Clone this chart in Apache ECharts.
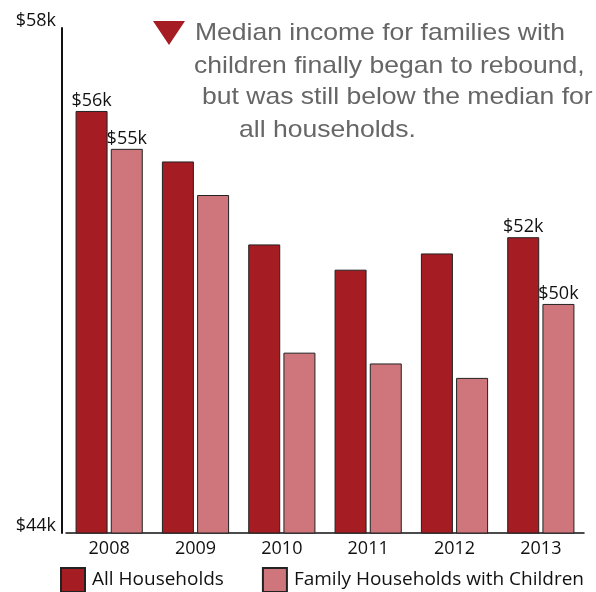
<!DOCTYPE html>
<html>
<head>
<meta charset="utf-8">
<script src="https://cdn.jsdelivr.net/npm/echarts@6/dist/echarts.min.js"></script>
<style>
html,body{margin:0;padding:0;background:#fff;}
#chart{width:596px;height:592px;}
</style>
</head>
<body>
<div id="chart"></div>
<script>
const years = ['2008', '2009', '2010', '2011', '2012', '2013'];
const allHouseholds = [55.7, 54.3, 52.0, 51.3, 51.75, 52.2];
const familyWithChildren = [54.65, 53.37, 49.0, 48.7, 48.3, 50.35];
const allLabels = ['$56k', '', '', '', '', '$52k'];
const familyLabels = ['$55k', '', '', '', '', '$50k'];
const yTicks = [44, 58];
const seriesNames = ['All Households', 'Family Households with Children'];
const noteLines = [
  'Median income for families with',
  'children finally began to rebound,',
  'but was still below the median for',
  'all households.'
];

const FONT = '"Open Sans", "Noto Sans", sans-serif';
const FS = 18;
const DARK = '#A51D23';
const PINK = '#CF767C';

function buildData(values, labels) {
  return values.map((v, i) => ({
    value: v,
    label: { show: labels[i] !== '', formatter: labels[i] }
  }));
}

const chart = echarts.init(document.getElementById('chart'));
const noteX = [195, 194, 202, 239];
const noteY = [21, 54, 85, 118];

chart.setOption({
  animation: false,
  grid: { left: 66, right: 12, top: 28, bottom: 59 },
  legend: {
    left: 60, top: 567, padding: 0,
    itemWidth: 24, itemHeight: 24, itemGap: 38,
    icon: 'rect',
    textStyle: { fontFamily: FONT, fontSize: 19, color: '#111', padding: [0, 0, 0, 2] },
    data: seriesNames
  },
  xAxis: {
    type: 'category',
    data: years,
    axisLine: { lineStyle: { color: '#111', width: 1.5 } },
    axisTick: { show: false },
    axisLabel: { fontFamily: FONT, fontSize: FS, color: '#111', margin: 7 }
  },
  yAxis: {
    type: 'value',
    min: yTicks[0], max: yTicks[1], interval: yTicks[1] - yTicks[0],
    offset: 4,
    splitLine: { show: false },
    axisLine: { show: true, lineStyle: { color: '#111', width: 2 } },
    axisTick: { show: false },
    axisLabel: {
      fontFamily: FONT, fontSize: FS, color: '#111', margin: 6,
      verticalAlign: 'bottom', lineHeight: 14,
      formatter: v => '$' + v + 'k'
    }
  },
  series: [
    {
      name: seriesNames[0], type: 'bar', barWidth: 32, barGap: '10%',
      itemStyle: { color: DARK, borderColor: '#222', borderWidth: 1 },
      label: { position: 'top', distance: 1, fontFamily: FONT, fontSize: FS, color: '#111' },
      data: buildData(allHouseholds, allLabels)
    },
    {
      name: seriesNames[1], type: 'bar', barWidth: 32,
      itemStyle: { color: PINK, borderColor: '#222', borderWidth: 1 },
      label: { position: 'top', distance: 1, fontFamily: FONT, fontSize: FS, color: '#111' },
      data: buildData(familyWithChildren, familyLabels)
    }
  ],
  graphic: [
    {
      type: 'polygon',
      shape: { points: [[153, 21], [185, 21], [169, 45]] },
      style: { fill: DARK }
    }
  ].concat(noteLines.map((t, i) => ({
    type: 'text', x: noteX[i], y: noteY[i], scaleX: 1.105,
    style: { text: t, fill: '#666', font: '24px "Liberation Sans", Arial, sans-serif', verticalAlign: 'top' }
  })))
});
</script>
</body>
</html>
